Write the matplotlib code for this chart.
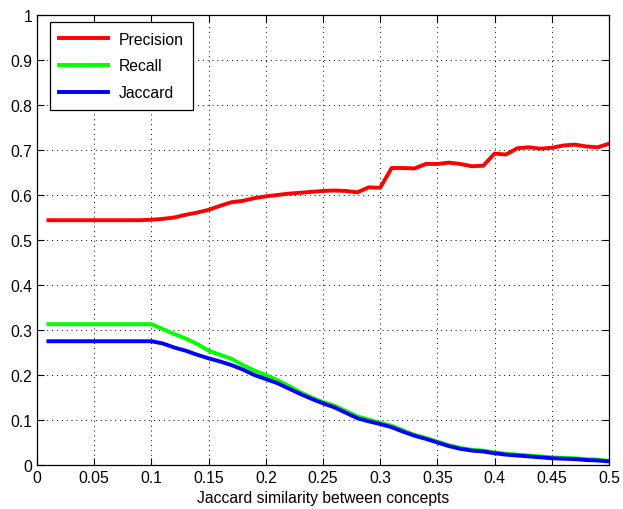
import numpy as np
import matplotlib
matplotlib.use("Agg")
import matplotlib.pyplot as plt

plt.rcParams['font.family'] = ['Liberation Sans', 'DejaVu Sans']

# ------------------------------
# Data
# ------------------------------
threshold = [0.01, 0.02, 0.03, 0.04, 0.05, 0.06, 0.07, 0.08, 0.09, 0.10,
             0.11, 0.12, 0.13, 0.14, 0.15, 0.16, 0.17, 0.18, 0.19, 0.20,
             0.21, 0.22, 0.23, 0.24, 0.25, 0.26, 0.27, 0.28, 0.29, 0.30,
             0.31, 0.32, 0.33, 0.34, 0.35, 0.36, 0.37, 0.38, 0.39, 0.40,
             0.41, 0.42, 0.43, 0.44, 0.45, 0.46, 0.47, 0.48, 0.49, 0.50]

precision = [0.544, 0.544, 0.544, 0.544, 0.544, 0.544, 0.544, 0.544, 0.544, 0.545,
             0.547, 0.550, 0.556, 0.561, 0.567, 0.576, 0.584, 0.587, 0.593, 0.597,
             0.600, 0.603, 0.605, 0.607, 0.609, 0.610, 0.609, 0.606, 0.617, 0.616,
             0.660, 0.660, 0.659, 0.669, 0.669, 0.672, 0.669, 0.664, 0.665, 0.692,
             0.690, 0.704, 0.706, 0.703, 0.705, 0.710, 0.712, 0.708, 0.706, 0.714]

recall = [0.313, 0.313, 0.313, 0.313, 0.313, 0.313, 0.313, 0.313, 0.313, 0.313,
          0.302, 0.291, 0.281, 0.269, 0.254, 0.245, 0.236, 0.222, 0.210, 0.200,
          0.189, 0.176, 0.162, 0.150, 0.140, 0.132, 0.120, 0.108, 0.101, 0.094,
          0.087, 0.077, 0.067, 0.060, 0.052, 0.044, 0.038, 0.034, 0.032, 0.028,
          0.025, 0.023, 0.021, 0.019, 0.017, 0.016, 0.015, 0.013, 0.012, 0.009]

jaccard = [0.275, 0.275, 0.275, 0.275, 0.275, 0.275, 0.275, 0.275, 0.275, 0.275,
           0.270, 0.261, 0.254, 0.245, 0.237, 0.230, 0.222, 0.212, 0.200, 0.191,
           0.182, 0.170, 0.158, 0.147, 0.137, 0.128, 0.116, 0.104, 0.097, 0.091,
           0.084, 0.074, 0.065, 0.058, 0.050, 0.042, 0.036, 0.032, 0.030, 0.026,
           0.023, 0.021, 0.019, 0.017, 0.015, 0.014, 0.013, 0.011, 0.010, 0.008]

x_ticks = [0, 0.05, 0.1, 0.15, 0.2, 0.25, 0.3, 0.35, 0.4, 0.45, 0.5]
x_ticklabels = ['0', '0.05', '0.1', '0.15', '0.2', '0.25', '0.3', '0.35', '0.4', '0.45', '0.5']
y_ticks = [0, 0.1, 0.2, 0.3, 0.4, 0.5, 0.6, 0.7, 0.8, 0.9, 1]
y_ticklabels = ['0', '0.1', '0.2', '0.3', '0.4', '0.5', '0.6', '0.7', '0.8', '0.9', '1']

# ------------------------------
# Plot
# ------------------------------
fig = plt.figure(figsize=(6.23, 5.10), dpi=100)
ax = fig.add_axes([0.0594, 0.0863, 0.9181, 0.8823])

ax.plot(threshold, precision, color='#ff0000', lw=2.8, label='Precision')
ax.plot(threshold, recall, color='#00ff00', lw=2.8, label='Recall')
ax.plot(threshold, jaccard, color='#0000ff', lw=2.8, label='Jaccard')

ax.set_xlim(0, 0.5)
ax.set_ylim(0, 1)
ax.set_xticks(x_ticks)
ax.set_xticklabels(x_ticklabels)
ax.set_yticks(y_ticks)
ax.set_yticklabels(y_ticklabels)
ax.tick_params(direction='in', top=True, right=True, length=5, labelsize=11.3, width=0.8)
ax.grid(True, linestyle=(0, (1, 4)), color='black', linewidth=0.7)
ax.set_xlabel('Jaccard similarity between concepts', fontsize=11.3, labelpad=4)
for s in ax.spines.values():
    s.set_linewidth(0.9)

leg = ax.legend(loc='upper left', bbox_to_anchor=(0.022, 0.984), borderaxespad=0,
                fontsize=11.3, handlelength=3.1, fancybox=False,
                edgecolor='black', framealpha=1,
                labelspacing=0.75, borderpad=0.6, handletextpad=0.7)
leg.get_frame().set_linewidth(0.9)

fig.savefig('out.png', dpi=100)
